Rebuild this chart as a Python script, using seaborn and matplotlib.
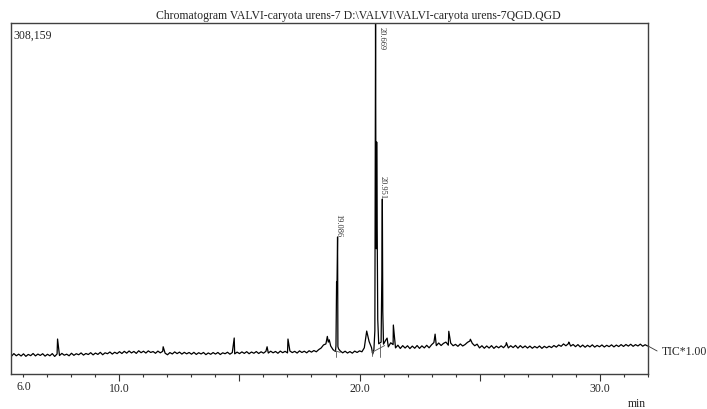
import numpy as np
import pandas as pd
import matplotlib
matplotlib.use("Agg")
import matplotlib.pyplot as plt
from matplotlib.ticker import FixedLocator, FixedFormatter
import seaborn as sns

# TIC baseline, sampled every 0.1 min from 5.5 min (kcounts)
base_start = 5.5
base_step = 0.1
base_vals = [
    15.6, 17.9, 16.0, 17.4, 15.8,
    17.7, 15.5, 17.2, 16.1, 18.0, 15.9, 17.5, 16.3, 17.8, 15.7,
    17.3, 16.0, 17.9, 15.4, 17.6, 16.2, 18.1, 16.5, 17.4, 16.0,
    18.2, 16.4, 17.8, 16.9, 18.5, 16.6, 18.0, 17.1, 18.7, 16.8,
    18.4, 17.2, 19.0, 16.9, 18.6, 17.8, 19.3, 17.5, 19.1, 17.9,
    19.6, 18.0, 19.9, 18.3, 20.2, 18.5, 19.8, 18.1, 20.4, 18.7,
    20.0, 18.4, 20.3, 18.9, 19.7, 18.2, 20.1, 18.6, 19.9, 18.3,
    16.9, 18.8, 17.6, 19.4, 17.9, 19.2, 17.5, 19.0, 17.7, 18.9,
    17.4, 19.0, 17.2, 18.7, 17.6, 18.9, 17.0, 18.5, 17.3, 18.8,
    17.5, 18.9, 17.1, 18.6, 17.8, 19.1, 17.4, 18.8, 17.7, 19.2,
    17.9, 19.4, 18.1, 19.6, 17.8, 19.3, 18.2, 19.7, 18.0, 19.5,
    18.3, 19.9, 18.4, 20.0, 18.6, 19.8, 18.2, 20.1, 18.7, 19.9,
    18.5, 20.2, 18.8, 19.9, 18.4, 20.3, 18.9, 20.0, 18.6, 20.4,
    19.2, 20.6, 19.5, 21.4, 22.8, 25.5, 26.4, 28.0, 24.6, 21.3,
    19.8, 24.0, 20.2, 18.6, 20.0, 18.4, 19.7, 18.3, 20.1, 18.9,
    20.3, 19.5, 23.0, 37.7, 28.5, 23.2, 21.4, 110.0, 26.5, 28.0,
    26.2, 30.0, 23.8, 27.4, 25.8, 22.9, 25.3, 22.4, 24.9, 22.8,
    24.8, 22.3, 24.5, 22.6, 25.0, 22.5, 24.7, 22.9, 25.2, 23.0,
    25.6, 27.6, 24.9, 27.2, 25.0, 26.9, 28.0, 25.3, 27.1, 24.8,
    26.0, 24.3, 26.4, 24.6, 25.9, 27.8, 29.0, 26.9, 24.8, 26.2,
    22.9, 24.8, 22.6, 24.6, 22.8, 24.9, 22.5, 24.4, 23.0, 24.7,
    23.1, 25.4, 22.9, 24.8, 23.2, 25.1, 22.7, 24.9, 23.0, 24.6,
    22.8, 24.5, 22.6, 24.2, 22.9, 24.6, 22.5, 24.3, 23.0, 24.4,
    23.2, 25.0, 23.6, 25.5, 24.3, 26.4, 24.8, 26.6, 24.5, 25.9,
    24.0, 25.8, 23.7, 25.4, 23.5, 25.2, 23.8, 25.6, 23.6, 25.1,
    23.9, 25.5, 23.7, 25.2, 24.0, 25.6, 23.8, 25.4, 24.1, 25.8,
    24.2, 25.9, 24.5, 26.1, 24.3, 25.8, 24.6, 26.2, 24.4, 25.7,
    24.6,
]

# narrow peaks and spikes between the baseline samples
peak_times = [7.42, 11.82, 14.78, 16.15, 17.02, 18.66, 18.74,
              19.02, 19.045, 19.06, 19.086, 19.095, 19.13,
              20.55, 20.64, 20.655, 20.669, 20.685, 20.715, 20.735, 20.76,
              20.93, 20.951, 20.97, 21.15, 21.41,
              23.15, 23.72, 24.62, 26.12, 28.72]
peak_vals = [30.7, 23.9, 31.6, 23.9, 30.7, 33.0, 30.0,
             25.0, 80.8, 74.0, 120.3, 70.0, 22.0,
             17.5, 38.0, 175.0, 308.159, 150.0, 203.7, 130.0, 48.0,
             85.0, 153.6, 55.0, 31.5, 43.0,
             35.0, 37.5, 30.5, 27.5, 28.0]

# labelled peaks
label_times = [19.086, 20.669, 20.951]
label_heights = [120.3, 308.159, 153.6]
label_texts = ["19.086", "20.669", "20.951"]

# integration marks (t0, v0, t1, v1)
marks = [(19.0, 20.0, 19.0, 14.5), (20.52, 21.0, 20.52, 16.0),
         (20.86, 26.0, 20.86, 15.0), (18.95, 20.5, 19.2, 19.0),
         (20.52, 19.0, 21.05, 25.0)]

x_min, x_max = 5.48, 32.02
y_max = 308.159

base_times = np.round(base_start + base_step * np.arange(len(base_vals)), 3)
df = pd.DataFrame({"t": np.concatenate([base_times, peak_times]),
                   "v": np.concatenate([base_vals, peak_vals])})
df = df.sort_values("t").reset_index(drop=True)

sns.set_theme(style="white")
plt.rcParams["font.family"] = ["Liberation Serif", "DejaVu Serif"]

fig = plt.figure(figsize=(7.07, 4.10), dpi=100)
ax = fig.add_axes([11 / 707, 35 / 410, 637 / 707, 351 / 410])

sns.lineplot(data=df, x="t", y="v", ax=ax, estimator=None, sort=True,
             color="black", linewidth=0.9)

for t0, v0, t1, v1 in marks:
    ax.plot([t0, t1], [v0, v1], color="#555555", lw=0.6)

for t, h, s in zip(label_times, label_heights, label_texts):
    if h >= y_max * 0.95:
        ax.text(t + 0.27, h - 3, s, rotation=270, ha="center", va="top",
                fontsize=6, color="#333333")
    else:
        ax.text(t + 0.02, h + 1, s, rotation=270, ha="center", va="bottom",
                fontsize=6, color="#333333")

ax.set_xlim(x_min, x_max)
ax.set_ylim(0, y_max)
ax.set_xlabel("")
ax.set_ylabel("")

major = [10, 15, 20, 25, 30]
minor = [m for m in range(6, 33) if m not in major]
ax.xaxis.set_major_locator(FixedLocator(major))
ax.xaxis.set_major_formatter(FixedFormatter(["10.0", "", "20.0", "", "30.0"]))
ax.xaxis.set_minor_locator(FixedLocator(minor))
ax.xaxis.set_minor_formatter(FixedFormatter(["6.0"] + [""] * (len(minor) - 1)))
ax.tick_params(axis="x", which="major", direction="out", length=5, width=0.8,
               color="#333333", pad=0.5, labelsize=8.5, bottom=True)
ax.tick_params(axis="x", which="minor", direction="out", length=2.2, width=0.8,
               color="#333333", pad=2.4, labelsize=8.5, bottom=True)
ax.set_yticks([])

for sp in ax.spines.values():
    sp.set_visible(True)
    sp.set_color("#404040")
    sp.set_linewidth(1.0)

ax.text(0.004, 0.985, "308,159", transform=ax.transAxes, ha="left", va="top",
        fontsize=8.5)

last_v = df["v"].iloc[-1]
ax.plot([x_max, 32.40], [last_v, 20.2], color="#333333", lw=0.6, clip_on=False)
ax.text(32.58, 20.2, "TIC*1.00", ha="left", va="center", fontsize=8.5)

fig.text(358 / 707, 1 - 16 / 410,
         "Chromatogram VALVI-caryota urens-7 D:\\VALVI\\VALVI-caryota urens-7QGD.QGD",
         ha="center", va="center", fontsize=8.5)
fig.text(637 / 707, 1 - 404 / 410, "min", ha="center", va="center", fontsize=8.5)

fig.savefig("out.png", dpi=100, facecolor="white")
